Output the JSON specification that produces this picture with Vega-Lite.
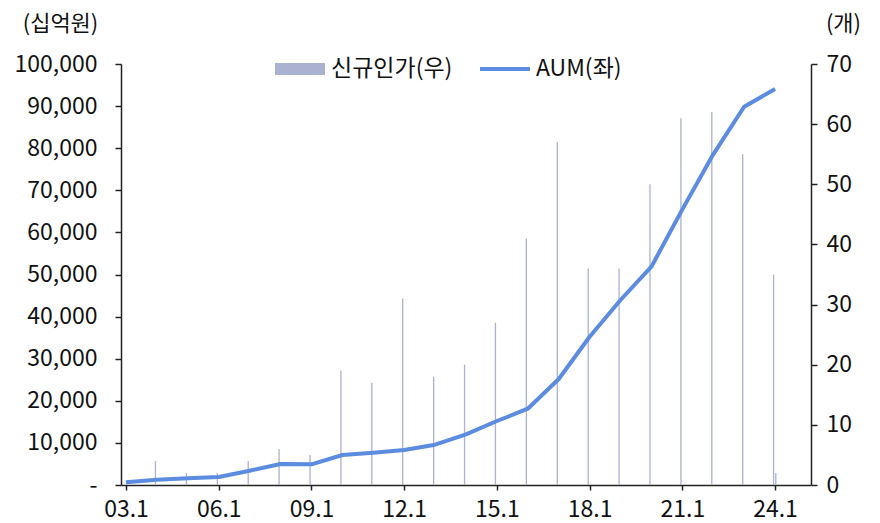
{
  "$schema": "https://vega.github.io/schema/vega-lite/v6.json",
  "width": 690,
  "height": 421,
  "autosize": {"type": "none"},
  "padding": {"left": 121, "top": 64, "right": 69, "bottom": 38},
  "background": "white",
  "config": {
    "view": {"stroke": null},
    "font": "Noto Sans CJK KR",
    "axis": {
      "grid": false,
      "domainColor": "#222222",
      "tickColor": "#222222",
      "domainWidth": 1.5,
      "tickWidth": 1.5,
      "tickSize": 6,
      "labelFont": "Noto Sans CJK KR",
      "labelFontSize": 22,
      "labelColor": "#111111",
      "titleFont": "Noto Sans CJK KR",
      "titleFontSize": 22,
      "titleFontWeight": "normal",
      "titleColor": "#111111"
    }
  },
  "datasets": {
    "bars": [
      {"date": "2003/12/15", "count": 4},
      {"date": "2004/12/15", "count": 2},
      {"date": "2005/12/15", "count": 2},
      {"date": "2006/12/15", "count": 4},
      {"date": "2007/12/15", "count": 6},
      {"date": "2008/12/15", "count": 5},
      {"date": "2009/12/15", "count": 19},
      {"date": "2010/12/15", "count": 17},
      {"date": "2011/12/15", "count": 31},
      {"date": "2012/12/15", "count": 18},
      {"date": "2013/12/15", "count": 20},
      {"date": "2014/12/15", "count": 27},
      {"date": "2015/12/15", "count": 41},
      {"date": "2016/12/15", "count": 57},
      {"date": "2017/12/15", "count": 36},
      {"date": "2018/12/15", "count": 36},
      {"date": "2019/12/15", "count": 50},
      {"date": "2020/12/15", "count": 61},
      {"date": "2021/12/15", "count": 62},
      {"date": "2022/12/15", "count": 55},
      {"date": "2023/12/15", "count": 35},
      {"date": "2024/01/10", "count": 2}
    ],
    "aum": [
      {"date": "2003/01/01", "aum": 640},
      {"date": "2004/01/01", "aum": 1260},
      {"date": "2005/01/01", "aum": 1590},
      {"date": "2006/01/01", "aum": 1900},
      {"date": "2007/01/01", "aum": 3400},
      {"date": "2008/01/01", "aum": 4990},
      {"date": "2009/01/01", "aum": 4900},
      {"date": "2010/01/01", "aum": 7120},
      {"date": "2011/01/01", "aum": 7670},
      {"date": "2012/01/01", "aum": 8310},
      {"date": "2013/01/01", "aum": 9570},
      {"date": "2014/01/01", "aum": 12040},
      {"date": "2015/01/01", "aum": 15200},
      {"date": "2016/01/01", "aum": 18120},
      {"date": "2017/01/01", "aum": 25180},
      {"date": "2018/01/01", "aum": 35220},
      {"date": "2019/01/01", "aum": 43940},
      {"date": "2020/01/01", "aum": 51850},
      {"date": "2021/01/01", "aum": 65480},
      {"date": "2022/01/01", "aum": 78540},
      {"date": "2023/01/01", "aum": 89850},
      {"date": "2024/01/01", "aum": 94050}
    ]
  },
  "encoding": {
    "x": {
      "field": "date",
      "type": "temporal",
      "scale": {"domain": [{"year": 2003, "month": 1, "date": 1}, {"year": 2025, "month": 1, "date": 1}]},
      "axis": {
        "title": null,
        "format": "%y.%-m",
        "values": [
          {"year": 2003, "month": 1, "date": 1},
          {"year": 2006, "month": 1, "date": 1},
          {"year": 2009, "month": 1, "date": 1},
          {"year": 2012, "month": 1, "date": 1},
          {"year": 2015, "month": 1, "date": 1},
          {"year": 2018, "month": 1, "date": 1},
          {"year": 2021, "month": 1, "date": 1},
          {"year": 2024, "month": 1, "date": 1}
        ],
        "tickSize": 5,
        "labelPadding": 8,
        "labelFontSize": 23,
        "labelFlush": false,
        "labelOverlap": false
      }
    }
  },
  "layer": [
    {
      "data": {"name": "bars"},
      "mark": {"type": "bar", "size": 1.3},
      "encoding": {
        "y": {
          "field": "count",
          "type": "quantitative",
          "scale": {"domain": [0, 70], "nice": false},
          "axis": {
            "orient": "right",
            "values": [0, 10, 20, 30, 40, 50, 60, 70],
            "labelPadding": 9,
            "labelFontSize": 23,
            "title": "(개)",
            "titleAngle": 0,
            "titleAlign": "center",
            "titleBaseline": "middle",
            "titleX": 32,
            "titleY": -41
          }
        },
        "color": {
          "datum": "신규인가(우)",
          "type": "nominal",
          "scale": {"domain": ["신규인가(우)", "AUM(좌)"], "range": ["#AAB1D1", "#5B8CDF"]},
          "legend": {
            "title": null,
            "orient": "none",
            "direction": "horizontal",
            "legendX": 154,
            "legendY": -20,
            "padding": 0,
            "symbolSize": 2500,
            "symbolStrokeWidth": 0,
            "labelFontSize": 23,
            "labelColor": "#111111",
            "labelOffset": 6,
            "columnPadding": 27,
            "encode": {
              "symbols": {
                "update": {
                  "shape": {"signal": "datum.value === 'AUM(좌)' ? 'M-1,-0.08H1V0.08H-1Z' : 'M-1,-0.24H1V0.24H-1Z'"},
                  "fill": {"signal": "datum.value === 'AUM(좌)' ? '#5B8CDF' : '#9CA5C8'"},
                  "strokeWidth": {"value": 0},
                  "opacity": {"value": 1}
                }
              }
            }
          }
        }
      }
    },
    {
      "data": {"name": "aum"},
      "mark": {"type": "line", "strokeWidth": 4, "strokeJoin": "round"},
      "encoding": {
        "y": {
          "field": "aum",
          "type": "quantitative",
          "scale": {"domain": [0, 100000], "nice": false},
          "axis": {
            "orient": "left",
            "values": [0, 10000, 20000, 30000, 40000, 50000, 60000, 70000, 80000, 90000, 100000],
            "labelExpr": "datum.value === 0 ? '-' : format(datum.value, ',')",
            "labelPadding": 18,
            "labelFontSize": 23,
            "title": "(십억원)",
            "titleAngle": 0,
            "titleAlign": "center",
            "titleBaseline": "middle",
            "titleX": -61,
            "titleY": -41
          }
        },
        "color": {
          "datum": "AUM(좌)",
          "type": "nominal"
        }
      }
    }
  ],
  "resolve": {"scale": {"y": "independent"}}
}
